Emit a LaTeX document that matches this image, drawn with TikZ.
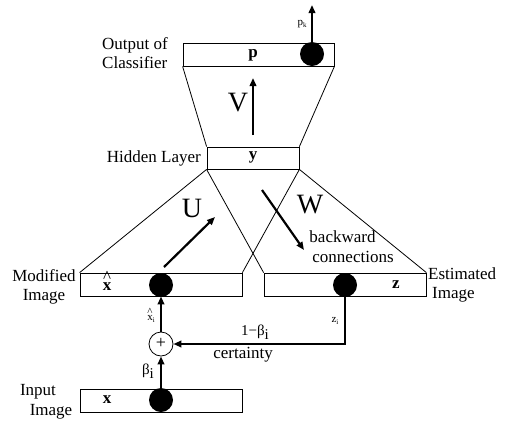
\documentclass[tikz,border=0pt]{standalone}
\usepackage{fontspec}
\setmainfont{Liberation Serif}
\usetikzlibrary{arrows.meta}
\newcommand{\hatx}[1]{\ooalign{x\cr\hidewidth\raisebox{#1}{\normalfont\textasciicircum}\hidewidth}}
\begin{document}
\begin{tikzpicture}[x=1pt,y=-1pt,
  layer/.style={draw,line width=0.8pt,minimum height=23pt,inner sep=0pt},
  unit/.style={circle,fill=black,minimum size=24pt,inner sep=0pt},
  plusnode/.style={circle,draw,line width=0.8pt,fill=white,minimum size=24pt,inner sep=0pt,font=\fontsize{18}{18}\selectfont},
  thin/.style={line width=0.8pt},
  thick arrow/.style={line width=2.2pt,-{Triangle[length=8pt,width=6.5pt]}},
  big/.style={font=\fontsize{28}{28}\selectfont},
  txt/.style={font=\fontsize{17}{18.5}\selectfont,inner sep=0pt},
  sm/.style={font=\fontsize{11}{11}\selectfont,inner sep=0pt},
  mid/.style={font=\fontsize{15}{15}\selectfont,inner sep=0pt},
  vec/.style={font=\fontsize{17}{17}\selectfont\bfseries,inner sep=0pt}]
\useasboundingbox[fill=white] (0,0) rectangle (505,421);
% layers
\node[layer,minimum width=151pt] (outbox) at (258.5,54.5) {};
\node[layer,minimum width=92pt,minimum height=22pt] (hidbox) at (253,158) {};
\node[layer,minimum width=162pt] (modbox) at (161,284.5) {};
\node[layer,minimum width=162pt] (estbox) at (345,284.5) {};
\node[layer,minimum width=162pt] (inbox) at (161,400.5) {};
% trapezoid connections
\draw[thin] (outbox.south west) -- (hidbox.north west);
\draw[thin] (outbox.south east) -- (hidbox.north east);
\draw[thin] (hidbox.south west) -- (modbox.north west);
\draw[thin] (hidbox.south west) -- (estbox.north west);
\draw[thin] (hidbox.south east) -- (modbox.north east);
\draw[thin] (hidbox.south east) -- (estbox.north east);
% units
\node[unit] (pu) at (312,54) {};
\node[unit] (xu) at (161,285) {};
\node[unit] (zu) at (345,285) {};
\node[unit] (iu) at (161,400) {};
\node[plusnode] (plus) at (161,344) {\raisebox{1pt}{+}};
% coordinates
\coordinate (pk) at (312,5);
\coordinate (v0) at (253,135);
\coordinate (v1) at (253,78);
\coordinate (u0) at (164,267);
\coordinate (u1) at (215,217);
\coordinate (w0) at (262,190);
\coordinate (w1) at (304,250);
\coordinate (corner) at (345,344);
% arrows
\draw[thick arrow] (pu.north) -- (pk);
\draw[thick arrow] (v0) -- (v1);
\draw[thick arrow] (u0) -- (u1);
\draw[thick arrow] (w0) -- (w1);
\draw[thick arrow] (plus.north) -- (modbox.south);
\draw[thick arrow] (iu.north) -- (plus.south);
\draw[thick arrow] (zu.center) -- (corner) -- (plus.east);
% layer labels
\node[vec] (plab) at (253,55) {p};
\node[vec] (ylab) at (253,157) {y};
\node[vec] (xhlab) at (107,287) {\hatx{8pt}};
\node[vec] (zlab) at (396,285) {z};
\node[vec] (xlab) at (107,400) {x};
% side labels
\node[txt,anchor=west,align=left] (outtxt) at (102,53) {Output of\\Classifier};
\node[txt,anchor=east] (hidtxt) at (201,158) {Hidden Layer};
\node[txt,align=center] (modtxt) at (44,287) {Modified\\Image};
\node[txt,anchor=west,align=left] (esttxt) at (428,285) {Estimated\\\hspace{4pt}Image};
\node[txt] (intxt) at (38,392) {Input};
\node[txt] (imtxt) at (51,412) {Image};
% weight labels
\node[big] (Vlab) at (238,103) {V};
\node[big] (Ulab) at (192,208) {U};
\node[big] (Wlab) at (310,205) {W};
\node[txt] (bw1) at (342.5,237) {backward};
\node[txt] (bw2) at (353,257) {connections};
% small labels
\node[sm] (pklab) at (302,24) {p\raisebox{-2pt}{\fontsize{7}{7}\selectfont k}};
\node[sm] (xilab) at (151,319) {\hatx{5pt}\raisebox{-2pt}{\fontsize{7}{7}\selectfont i}};
\node[sm] (zilab) at (335,321) {z\raisebox{-2pt}{\fontsize{7}{7}\selectfont i}};
\node[mid] (oblab) at (255,332) {1−β\raisebox{-4pt}{i}};
\node[txt] (certlab) at (243,355) {certainty};
\node[mid] (blab) at (148,371) {β\raisebox{-4pt}{i}};
\end{tikzpicture}
\end{document}
